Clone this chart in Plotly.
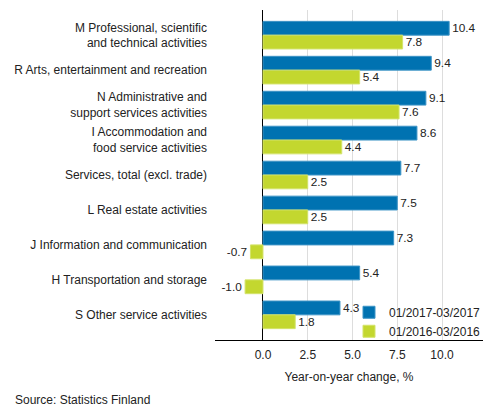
import plotly.graph_objects as go

categories = [
    "M Professional, scientific<br>and technical activities",
    "R Arts, entertainment and recreation",
    "N Administrative and<br>support services activities",
    "I Accommodation and<br>food service activities",
    "Services, total (excl. trade)",
    "L Real estate activities",
    "J Information and communication",
    "H Transportation and storage",
    "S Other service activities",
]
values_2017 = [10.4, 9.4, 9.1, 8.6, 7.7, 7.5, 7.3, 5.4, 4.3]
values_2016 = [7.8, 5.4, 7.6, 4.4, 2.5, 2.5, -0.7, -1.0, 1.8]
series_names = ["01/2017-03/2017", "01/2016-03/2016"]
x_ticks = [0, 2.5, 5, 7.5, 10]

font = dict(family="Liberation Sans, Arial, sans-serif", size=12, color="#222222")

fig = go.Figure()
fig.add_trace(go.Bar(
    y=categories, x=values_2017, name=series_names[0], orientation="h",
    marker=dict(color="#0072b1", line=dict(color="#3d94c6", width=1)),
    text=[f"{v:.1f}" for v in values_2017], textposition="outside",
    textfont=font, cliponaxis=False,
))
fig.add_trace(go.Bar(
    y=categories, x=values_2016, name=series_names[1], orientation="h",
    marker=dict(color="#c3d72f", line=dict(color="#d3e36a", width=1)),
    text=[f"{v:.1f}" for v in values_2016], textposition="outside",
    textfont=font, cliponaxis=False,
))

# The page body adds an 8px offset; the figure is sized to fit the 493x416 window.
fig.update_layout(
    template="none",
    width=485, height=408,
    margin=dict(l=207, r=10, t=2, b=76, autoexpand=False),
    barmode="group", bargap=0.21, bargroupgap=0,
    paper_bgcolor="white", plot_bgcolor="white",
    font=font,
    showlegend=True,
    legend=dict(x=0.50, y=0.128, xanchor="left", yanchor="top",
                bgcolor="rgba(0,0,0,0)", font=font, itemwidth=30,
                tracegroupgap=0),
    xaxis=dict(range=[-2.68, 12.29], tickvals=x_ticks, tickformat=".1f",
               showgrid=True, gridcolor="#dddddd", gridwidth=1,
               zeroline=True, zerolinecolor="#000000", zerolinewidth=1,
               showline=True, linecolor="#000000", linewidth=1,
               ticks="", ticklabelstandoff=4, automargin=False,
               title=dict(text="Year-on-year change, %", font=font, standoff=11),
               fixedrange=True),
    yaxis=dict(range=[8.72, -0.72], autorange=False, showgrid=False, ticks="",
               showline=False, zeroline=False, ticklabelstandoff=7,
               automargin=False, fixedrange=True),
    annotations=[dict(text="Source: Statistics Finland", xref="paper", yref="paper",
                      x=-202/268, y=-60/330, xanchor="left", yanchor="middle",
                      showarrow=False, font=font)],
)

fig.write_html("out.html")
